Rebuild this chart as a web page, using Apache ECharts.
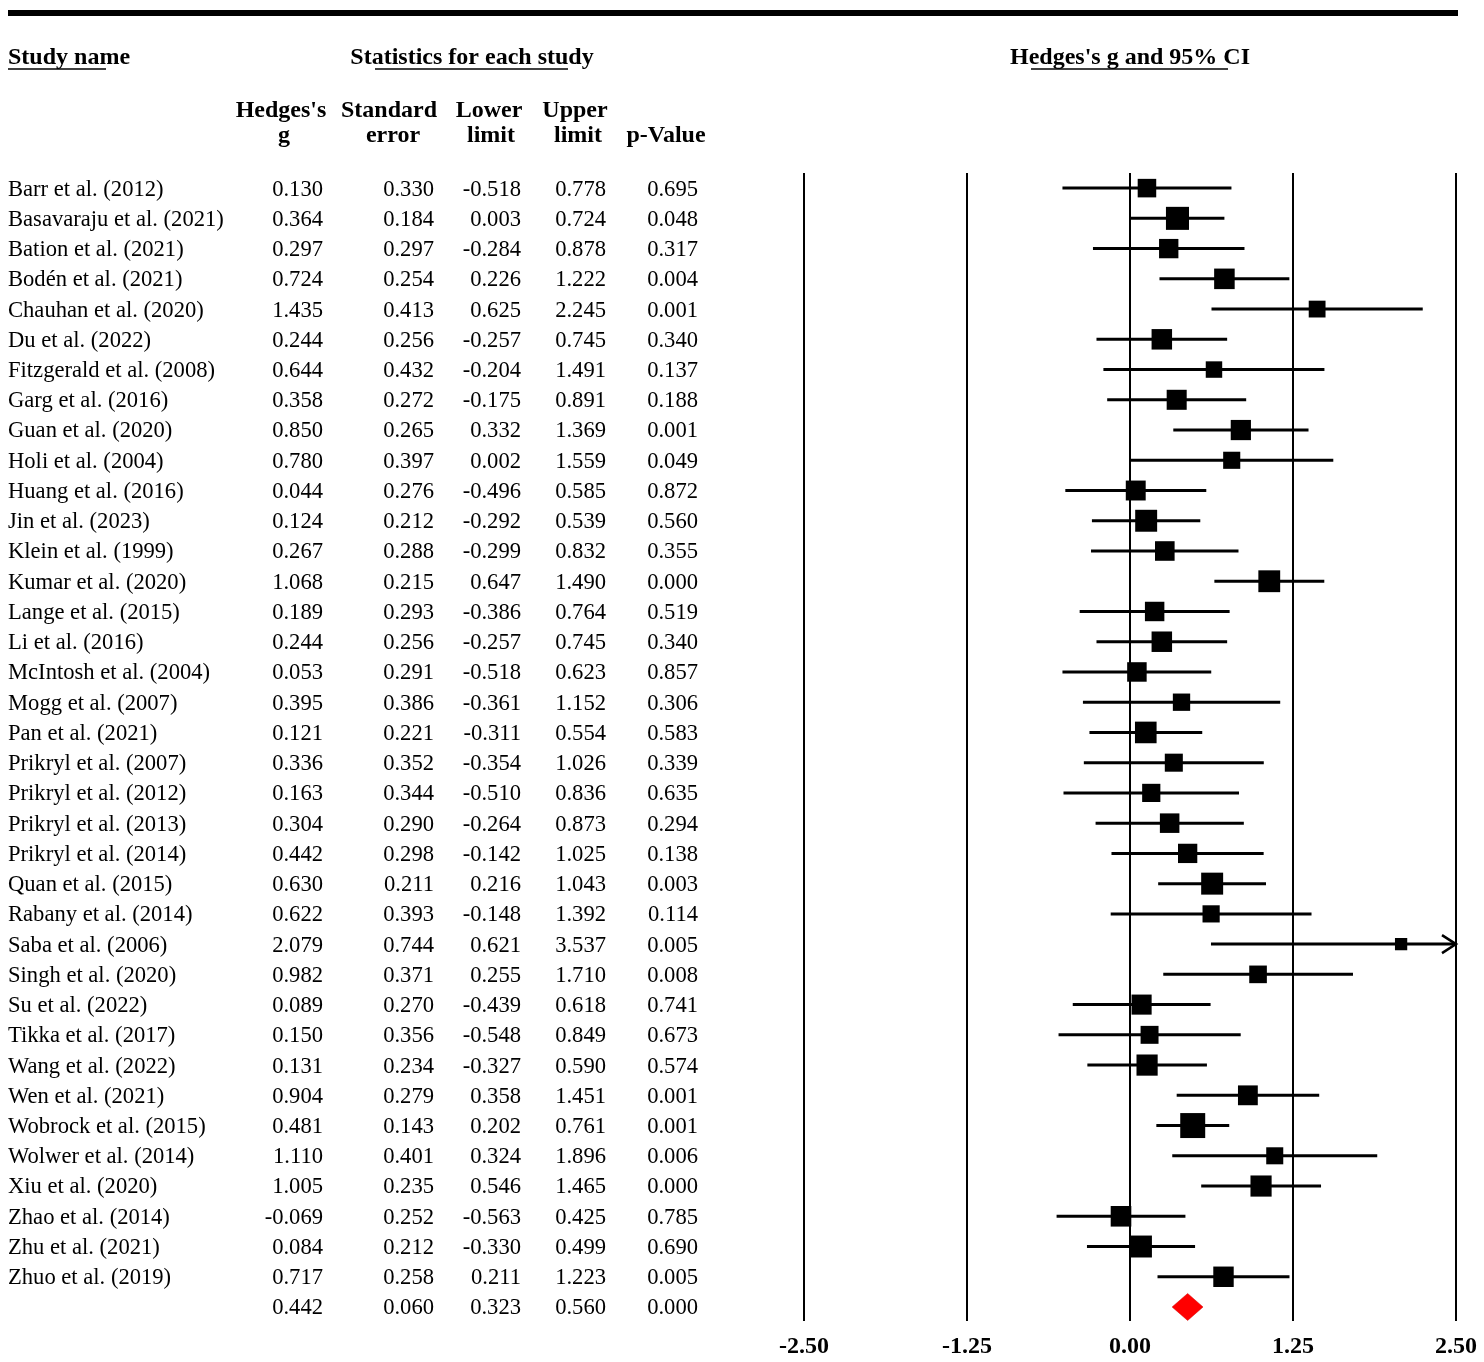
<!DOCTYPE html>
<html>
<head>
<meta charset="utf-8">
<script src="https://cdn.jsdelivr.net/npm/echarts@6/dist/echarts.min.js"></script>
<style>
html,body{margin:0;padding:0;background:#fff;}
#chart{width:1484px;height:1362px;}
</style>
</head>
<body>
<div id="chart"></div>
<script>
// ---- data ----
const studies = [
  "Barr et al. (2012)", "Basavaraju et al. (2021)", "Bation et al. (2021)", "Bodén et al. (2021)",
  "Chauhan et al. (2020)", "Du et al. (2022)", "Fitzgerald et al. (2008)", "Garg et al. (2016)",
  "Guan et al. (2020)", "Holi et al. (2004)", "Huang et al. (2016)", "Jin et al. (2023)",
  "Klein et al. (1999)", "Kumar et al. (2020)", "Lange et al. (2015)", "Li et al. (2016)",
  "McIntosh et al. (2004)", "Mogg et al. (2007)", "Pan et al. (2021)", "Prikryl et al. (2007)",
  "Prikryl et al. (2012)", "Prikryl et al. (2013)", "Prikryl et al. (2014)", "Quan et al. (2015)",
  "Rabany et al. (2014)", "Saba et al. (2006)", "Singh et al. (2020)", "Su et al. (2022)",
  "Tikka et al. (2017)", "Wang et al. (2022)", "Wen et al. (2021)", "Wobrock et al. (2015)",
  "Wolwer et al. (2014)", "Xiu et al. (2020)", "Zhao et al. (2014)", "Zhu et al. (2021)",
  "Zhuo et al. (2019)"
];
const hedgesG = [0.130,0.364,0.297,0.724,1.435,0.244,0.644,0.358,0.850,0.780,0.044,0.124,0.267,1.068,0.189,0.244,0.053,0.395,0.121,0.336,0.163,0.304,0.442,0.630,0.622,2.079,0.982,0.089,0.150,0.131,0.904,0.481,1.110,1.005,-0.069,0.084,0.717];
const stdErr = [0.330,0.184,0.297,0.254,0.413,0.256,0.432,0.272,0.265,0.397,0.276,0.212,0.288,0.215,0.293,0.256,0.291,0.386,0.221,0.352,0.344,0.290,0.298,0.211,0.393,0.744,0.371,0.270,0.356,0.234,0.279,0.143,0.401,0.235,0.252,0.212,0.258];
const lowerLimit = [-0.518,0.003,-0.284,0.226,0.625,-0.257,-0.204,-0.175,0.332,0.002,-0.496,-0.292,-0.299,0.647,-0.386,-0.257,-0.518,-0.361,-0.311,-0.354,-0.510,-0.264,-0.142,0.216,-0.148,0.621,0.255,-0.439,-0.548,-0.327,0.358,0.202,0.324,0.546,-0.563,-0.330,0.211];
const upperLimit = [0.778,0.724,0.878,1.222,2.245,0.745,1.491,0.891,1.369,1.559,0.585,0.539,0.832,1.490,0.764,0.745,0.623,1.152,0.554,1.026,0.836,0.873,1.025,1.043,1.392,3.537,1.710,0.618,0.849,0.590,1.451,0.761,1.896,1.465,0.425,0.499,1.223];
const pValue = [0.695,0.048,0.317,0.004,0.001,0.340,0.137,0.188,0.001,0.049,0.872,0.560,0.355,0.000,0.519,0.340,0.857,0.306,0.583,0.339,0.635,0.294,0.138,0.003,0.114,0.005,0.008,0.741,0.673,0.574,0.001,0.001,0.006,0.000,0.785,0.690,0.005];
const summary = {g:0.442, se:0.060, lower:0.323, upper:0.560, p:0.000};
const axisTicks = [-2.50,-1.25,0.00,1.25,2.50];

// ---- build series data ----
const N = studies.length;
const forestData = studies.map((s,i)=>[i, hedgesG[i], stdErr[i], lowerLimit[i], upperLimit[i]]);
const tableData = studies.map((s,i)=>[i, s, hedgesG[i], stdErr[i], lowerLimit[i], upperLimit[i], pValue[i]]);
tableData.push([N, "", summary.g, summary.se, summary.lower, summary.upper, summary.p]);

const FONT = '"Liberation Serif","Times New Roman",serif';
const XMIN = axisTicks[0], XMAX = axisTicks[axisTicks.length-1];
const YMIN = -0.5, YMAX = 37.463;
const colRight = [323, 434, 521, 606, 698];

function txt(x,y,text,align,font){
  return {type:'text', x:x, y:y, style:{text:text, font:font, fill:'#000',
    align:align, verticalAlign:'middle', textAlign:align, textVerticalAlign:'middle'}};
}

const chart = echarts.init(document.getElementById('chart'), null, {renderer:'canvas'});
const boldHead = 'bold 24px ' + FONT;
const option = {
  backgroundColor:'#fff',
  animation:false,
  grid:[
    {left:804, width:652, top:173, height:1148},
    {left:0, width:780, top:173, height:1148}
  ],
  xAxis:[
    {type:'value', gridIndex:0, min:XMIN, max:XMAX, interval:1.25,
      axisLine:{show:false}, axisTick:{show:false},
      splitLine:{show:true, showMinLine:true, showMaxLine:true, lineStyle:{color:'#000', width:2}},
      axisLabel:{show:true, color:'#000', fontFamily:FONT, fontWeight:'bold', fontSize:24, margin:14,
        showMinLabel:true, showMaxLabel:true,
        formatter:(v)=>v.toFixed(2)}},
    {type:'value', gridIndex:1, min:0, max:780, show:false}
  ],
  yAxis:[
    {type:'value', gridIndex:0, min:YMIN, max:YMAX, inverse:true, show:false},
    {type:'value', gridIndex:1, min:YMIN, max:YMAX, inverse:true, show:false}
  ],
  graphic:[
    {type:'rect', shape:{x:8, y:10, width:1450, height:6}, style:{fill:'#000'}},
    txt(8,58,'Study name','left',boldHead),
    {type:'line', shape:{x1:8,y1:69,x2:106,y2:69}, style:{stroke:'#000', lineWidth:1.5}},
    txt(472,58,'Statistics for each study','center',boldHead),
    {type:'line', shape:{x1:375,y1:69,x2:568,y2:69}, style:{stroke:'#000', lineWidth:1.5}},
    txt(1130,58,"Hedges's g and 95% CI",'center',boldHead),
    {type:'line', shape:{x1:1031,y1:69,x2:1228,y2:69}, style:{stroke:'#000', lineWidth:1.5}},
    txt(281,111,"Hedges's",'center',boldHead),
    txt(284,136,'g','center',boldHead),
    txt(389,111,'Standard','center',boldHead),
    txt(393,136,'error','center',boldHead),
    txt(489,111,'Lower','center',boldHead),
    txt(491,136,'limit','center',boldHead),
    txt(575,111,'Upper','center',boldHead),
    txt(578,136,'limit','center',boldHead),
    txt(666,136,'p-Value','center',boldHead)
  ],
  series:[
    {
      type:'custom', xAxisIndex:0, yAxisIndex:0, clip:false,
      encode:{x:[1,3,4], y:0},
      data:forestData,
      renderItem:function(params, api){
        const i = api.value(0), g = api.value(1), se = api.value(2), lo = api.value(3), hi = api.value(4);
        const p0 = api.coord([Math.max(lo, XMIN), i]);
        const p1 = api.coord([Math.min(hi, XMAX), i]);
        const pc = api.coord([g, i]);
        const s = 10 + 7.7*Math.log(1/se);
        const children = [
          {type:'line', shape:{x1:p0[0], y1:p0[1], x2:p1[0], y2:p1[1]}, style:{stroke:'#000', lineWidth:3}},
          {type:'rect', shape:{x:pc[0]-s/2, y:pc[1]-s/2, width:s, height:s}, style:{fill:'#000'}}
        ];
        if (hi > XMAX) {
          children.push({type:'polyline', shape:{points:[[p1[0]-14,p1[1]-9],[p1[0],p1[1]],[p1[0]-14,p1[1]+9]]},
            style:{stroke:'#000', lineWidth:2.5, fill:null}});
        }
        return {type:'group', children:children};
      }
    },
    {
      type:'custom', xAxisIndex:0, yAxisIndex:0, clip:false,
      encode:{x:[1,2,3], y:0},
      data:[[N, summary.lower, summary.g, summary.upper]],
      renderItem:function(params, api){
        const i = api.value(0);
        const a = api.coord([api.value(1), i]);
        const c = api.coord([api.value(2), i]);
        const b = api.coord([api.value(3), i]);
        const h = 13.5;
        return {type:'polygon', shape:{points:[[a[0],a[1]],[c[0],c[1]-h],[b[0],b[1]],[c[0],c[1]+h]]},
          style:{fill:'#ff0000', stroke:'#d00000', lineWidth:0.5}};
      }
    },
    {
      type:'custom', xAxisIndex:1, yAxisIndex:1, clip:false,
      encode:{x:[], y:0},
      data:tableData,
      renderItem:function(params, api){
        const d = tableData[params.dataIndex];
        const i = d[0];
        const font = '22.6px ' + FONT;
        const children = [];
        const pn = api.coord([8, i]);
        children.push(txt(pn[0], pn[1] + 1.5, d[1], 'left', font));
        for (let k=0;k<5;k++){
          const p = api.coord([colRight[k], i]);
          children.push(txt(p[0], p[1] + 1.5, Number(d[2+k]).toFixed(3), 'right', font));
        }
        return {type:'group', children:children};
      }
    }
  ]
};
chart.setOption(option);
</script>
</body>
</html>
